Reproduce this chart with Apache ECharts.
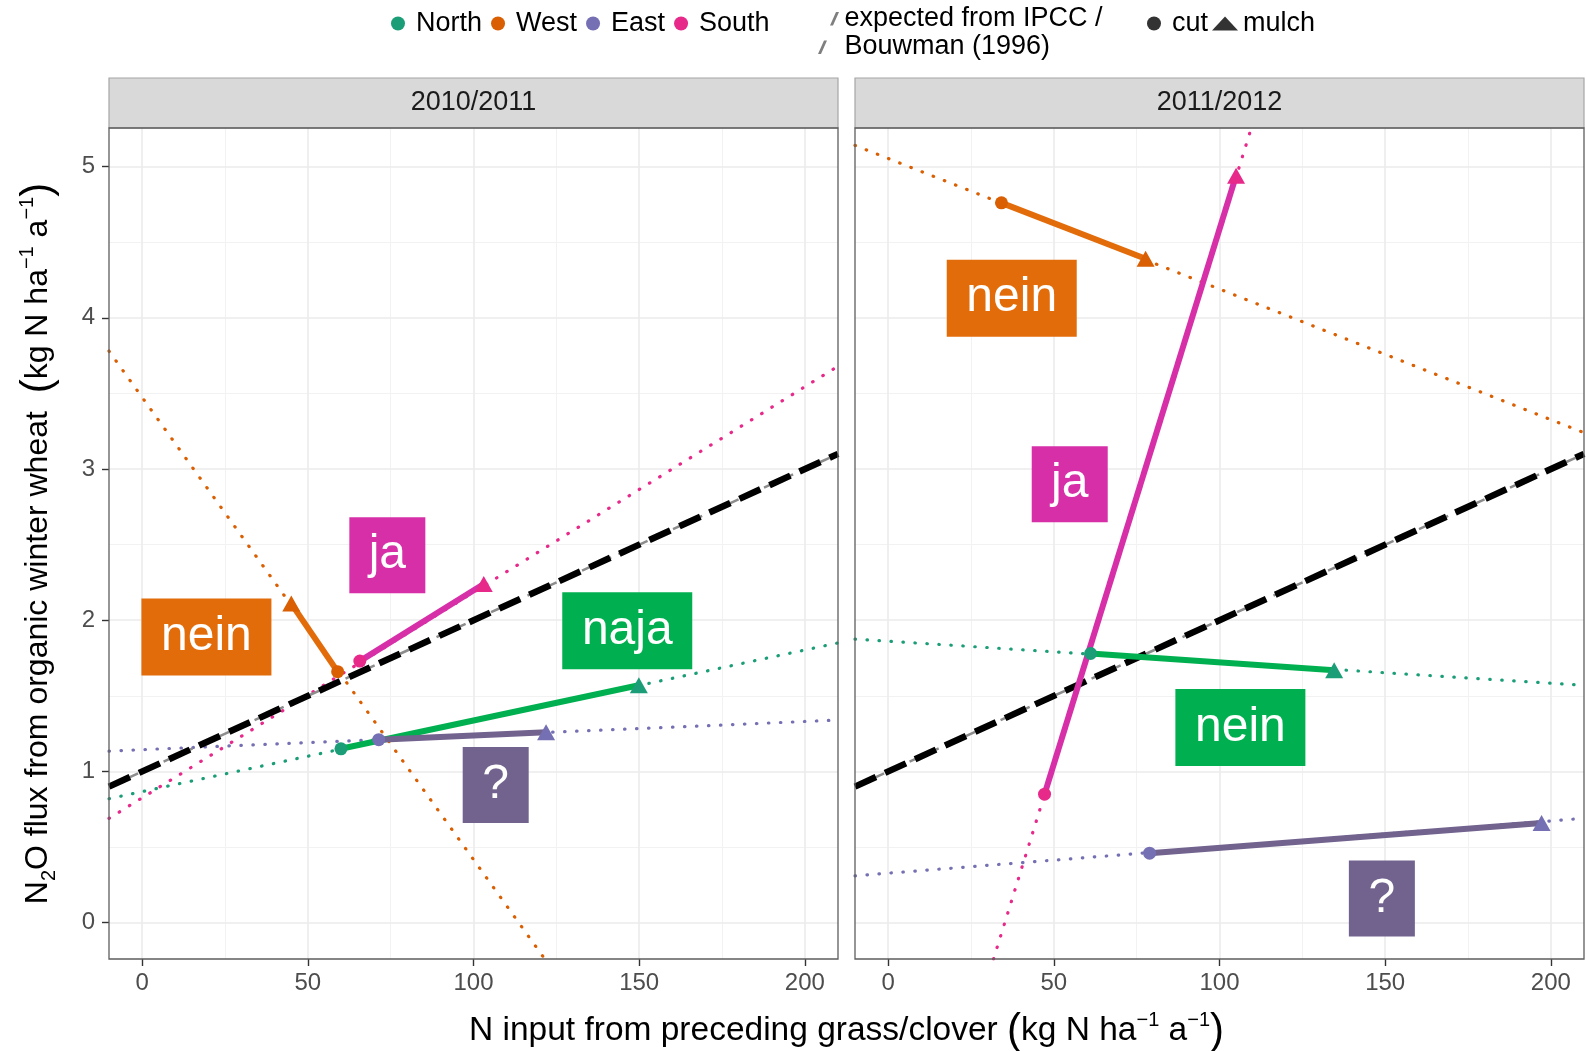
<!DOCTYPE html>
<html>
<head>
<meta charset="utf-8">
<script src="https://cdn.jsdelivr.net/npm/echarts/dist/echarts.min.js"></script>
<style>
  html, body { margin: 0; padding: 0; background: #fff; }
  #chart { width: 1587px; height: 1051px; }
</style>
</head>
<body>
<div id="chart"></div>
<script>
// ---- data -------------------------------------------------------------
const regions = ['North', 'West', 'East', 'South'];
const panels = ['2010/2011', '2011/2012'];

// N input (kg N/ha/a) and N2O flux (kg N/ha/a), order follows `regions`
const cut2010   = [[60.0, 1.15], [59.0, 1.66], [71.4, 1.21], [65.7, 1.73]];
const mulch2010 = [[149.9, 1.57], [45.0, 2.11], [121.9, 1.26], [103.1, 2.24]];
const cut2011   = [[61.1, 1.78], [34.2, 4.76], [78.9, 0.46], [47.2, 0.85]];
const mulch2011 = [[134.6, 1.67], [77.7, 4.39], [197.2, 0.66], [105.0, 4.94]];

// per-region trend lines (start and end point inside each panel)
const trend2010 = [
  [[-10, 0.82], [210, 1.85]],
  [[-10, 3.78], [121.5, -0.24]],
  [[-10, 1.135], [210, 1.34]],
  [[-10, 0.69], [210, 3.68]]
];
const trend2011 = [
  [[-10, 1.875], [210, 1.57]],
  [[-10, 5.14], [210, 3.24]],
  [[-10, 0.31], [210, 0.69]],
  [[31.8, -0.24], [109.6, 5.255]]
];

// expected emission after IPCC / Bouwman (1996)
const ipccLine = [[-10, 0.9], [210, 3.1]];

// verdict boxes per region, anchored in data coordinates
const verdicts2010 = ['naja', 'nein', '?', 'ja'];
const verdictAt2010 = [[146.4, 1.93], [19.4, 1.89], [106.7, 0.91], [74.0, 2.43]];
const verdicts2011 = ['nein', 'nein', '?', 'ja'];
const verdictAt2011 = [[106.3, 1.29], [37.3, 4.13], [149.0, 0.16], [54.8, 2.90]];

const xTicks = [0, 50, 100, 150, 200];
const xMinor = [25, 75, 125, 175];
const yTicks = [0, 1, 2, 3, 4, 5];
const yMinor = [0.5, 1.5, 2.5, 3.5, 4.5];

// ---- styling ----------------------------------------------------------
const FONT = "'Liberation Sans', Arial, sans-serif";
const pointColors = ['#1B9E77', '#D95F02', '#7570B3', '#E7298A'];
const accentColors = ['#00B050', '#E36C0A', '#72628E', '#D62FA8'];
const boxSize = { nein: [130, 77], naja: [130, 77], ja: [76, 76], '?': [66, 76] };
const IPCC_NAME = 'expected from IPCC / Bouwman (1996)';

const X_RANGE = [-10, 210];
const Y_RANGE = [-0.24, 5.255];
const gridBoxes = [
  { left: 109, top: 128, width: 729, height: 831 },
  { left: 855, top: 128, width: 729, height: 831 }
];
const STRIP_H = 50;

const panelData = [
  { cut: cut2010, mulch: mulch2010, trend: trend2010, verdicts: verdicts2010, at: verdictAt2010 },
  { cut: cut2011, mulch: mulch2011, trend: trend2011, verdicts: verdicts2011, at: verdictAt2011 }
];

// ---- build options ----------------------------------------------------
const grids = gridBoxes.map(g => ({ left: g.left, top: g.top, width: g.width, height: g.height, containLabel: false }));

const tickStyle = { color: '#333', width: 1.4 };

const xAxes = gridBoxes.map((g, i) => ({
  type: 'value', gridIndex: i, min: X_RANGE[0], max: X_RANGE[1], position: 'bottom',
  axisLine: { show: false, onZero: false },
  splitLine: { show: false },
  axisTick: { show: true, length: 7, lineStyle: tickStyle, customValues: xTicks },
  axisLabel: { customValues: xTicks, color: '#4D4D4D', fontSize: 24, fontFamily: FONT, margin: 12 }
}));

const yAxes = gridBoxes.map((g, i) => ({
  type: 'value', gridIndex: i, min: Y_RANGE[0], max: Y_RANGE[1], position: 'left',
  axisLine: { show: false, onZero: false },
  splitLine: { show: false },
  axisTick: { show: i === 0, length: 7, lineStyle: tickStyle, customValues: yTicks },
  axisLabel: { show: i === 0, customValues: yTicks, color: '#4D4D4D', fontSize: 24, fontFamily: FONT, margin: 14 },
  name: i === 0 ? '{t|N}{sub|2}{t|O flux from organic winter wheat  }{par|(}{t|kg N ha}{sup|−1}{t| a}{sup|−1}{par|)}' : '',
  nameLocation: 'middle',
  nameRotate: 90,
  nameGap: 50,
  nameTextStyle: {
    fontFamily: FONT,
    rich: {
      t:   { fontSize: 32, fontFamily: FONT, color: '#000', lineHeight: 42, verticalAlign: 'middle' },
      sub: { fontSize: 20, fontFamily: FONT, color: '#000', lineHeight: 24, verticalAlign: 'bottom' },
      sup: { fontSize: 20, fontFamily: FONT, color: '#000', lineHeight: 24, verticalAlign: 'top' },
      par: { fontSize: 42, fontFamily: FONT, color: '#000', lineHeight: 42, verticalAlign: 'middle' }
    }
  }
}));

const series = [];

panelData.forEach((p, gi) => {
  // panel grid lines
  series.push({
    type: 'line', xAxisIndex: gi, yAxisIndex: gi, data: [], silent: true, z: 1,
    markLine: {
      silent: true, symbol: 'none', animation: false, z: 1,
      label: { show: false },
      emphasis: { disabled: true },
      data: [
        ...xMinor.map(v => ({ xAxis: v, lineStyle: { color: '#F2F2F2', width: 1, type: 'solid' } })),
        ...yMinor.map(v => ({ yAxis: v, lineStyle: { color: '#F2F2F2', width: 1, type: 'solid' } })),
        ...xTicks.map(v => ({ xAxis: v, lineStyle: { color: '#EBEBEB', width: 1.6, type: 'solid' } })),
        ...yTicks.map(v => ({ yAxis: v, lineStyle: { color: '#EBEBEB', width: 1.6, type: 'solid' } }))
      ]
    }
  });

  // dotted trend line per region
  regions.forEach((r, ri) => {
    series.push({
      name: r, type: 'line', xAxisIndex: gi, yAxisIndex: gi, z: 2,
      data: p.trend[ri], showSymbol: false, clip: true, silent: true,
      color: pointColors[ri],
      lineStyle: { color: pointColors[ri], width: 3.2, type: [0.5, 11.5], cap: 'round' }
    });
  });

  // IPCC expectation: thin grey dash under a thick black dash
  series.push({
    name: IPCC_NAME, type: 'line', xAxisIndex: gi, yAxisIndex: gi, z: 3,
    data: ipccLine, showSymbol: false, silent: true, color: '#8C8C8C',
    lineStyle: { color: '#8C8C8C', width: 2.5, type: [12, 8] }
  });
  series.push({
    name: IPCC_NAME, type: 'line', xAxisIndex: gi, yAxisIndex: gi, z: 4,
    data: ipccLine, showSymbol: false, silent: true, color: '#000',
    lineStyle: { color: '#000', width: 6.5, type: [23, 10] }
  });

  // highlighted change from cut to mulch
  regions.forEach((r, ri) => {
    series.push({
      type: 'line', xAxisIndex: gi, yAxisIndex: gi, z: 5,
      data: [p.cut[ri], p.mulch[ri]], showSymbol: false, silent: true,
      lineStyle: { color: accentColors[ri], width: 6, cap: 'butt' }
    });
  });

  // cut (circle) and mulch (triangle) points
  series.push({
    name: 'cut', type: 'scatter', xAxisIndex: gi, yAxisIndex: gi, z: 6,
    symbol: 'circle', symbolSize: 13, silent: true,
    data: p.cut.map((d, ri) => ({ value: d, itemStyle: { color: pointColors[ri], opacity: 1 } }))
  });
  series.push({
    name: 'mulch', type: 'scatter', xAxisIndex: gi, yAxisIndex: gi, z: 6,
    symbol: 'triangle', symbolSize: [18, 16], silent: true,
    data: p.mulch.map((d, ri) => ({ value: d, itemStyle: { color: pointColors[ri], opacity: 1 } }))
  });

  // verdict boxes
  series.push({
    type: 'scatter', xAxisIndex: gi, yAxisIndex: gi, z: 7, silent: true,
    symbol: 'rect',
    data: p.verdicts.map((txt, ri) => ({
      value: p.at[ri],
      symbolSize: boxSize[txt],
      itemStyle: { color: accentColors[ri], opacity: 1 },
      label: {
        show: true, position: 'inside', formatter: txt,
        color: '#fff', fontSize: 48, fontFamily: FONT
      }
    }))
  });
});

// strips, panel borders and the shared x-axis title
const graphics = [];
gridBoxes.forEach((g, i) => {
  graphics.push({
    type: 'rect', z: 50,
    shape: { x: g.left, y: g.top - STRIP_H, width: g.width, height: STRIP_H },
    style: { fill: '#D9D9D9', stroke: '#A6A6A6', lineWidth: 1.2 }
  });
  graphics.push({
    type: 'text', z: 51,
    x: g.left + g.width / 2, y: g.top - STRIP_H / 2,
    style: { text: panels[i], fill: '#1A1A1A', font: '27px ' + FONT, align: 'center', verticalAlign: 'middle' }
  });
  graphics.push({
    type: 'rect', z: 60,
    shape: { x: g.left, y: g.top, width: g.width, height: g.height },
    style: { fill: 'none', stroke: '#5E5E5E', lineWidth: 1.3 }
  });
});
graphics.push({
  type: 'text', z: 51,
  x: (gridBoxes[0].left + gridBoxes[1].left + gridBoxes[1].width) / 2, y: 1031,
  style: {
    text: '{t|N input from preceding grass/clover }{par|(}{t|kg N ha}{sup|−1}{t| a}{sup|−1}{par|)}',
    align: 'center', verticalAlign: 'middle',
    rich: {
      t:   { fontSize: 33.5, fontFamily: FONT, fill: '#000', lineHeight: 42, verticalAlign: 'middle' },
      sup: { fontSize: 20, fontFamily: FONT, fill: '#000', lineHeight: 24, verticalAlign: 'top' },
      par: { fontSize: 42, fontFamily: FONT, fill: '#000', lineHeight: 42, verticalAlign: 'middle' }
    }
  }
});

const legendText = { color: '#000', fontSize: 27, fontFamily: FONT };

const option = {
  animation: false,
  backgroundColor: '#fff',
  grid: grids,
  xAxis: xAxes,
  yAxis: yAxes,
  legend: [
    {
      left: 386, top: 5, itemWidth: 26, itemHeight: 14, itemGap: 9,
      selectedMode: false, textStyle: legendText,
      data: regions.map((r, ri) => ({ name: r, icon: 'circle', itemStyle: { color: pointColors[ri] } }))
    },
    {
      left: 813, top: 0, itemWidth: 22, itemHeight: 42, selectedMode: false,
      textStyle: Object.assign({}, legendText, { lineHeight: 28 }),
      formatter: () => 'expected from IPCC /\nBouwman (1996)',
      data: [{
        name: IPCC_NAME,
        icon: 'path://M14,0L16,0L12,9L10,9Z M6,19L8,19L4,28L2,28Z',
        itemStyle: { color: '#7F7F7F' }
      }]
    },
    {
      left: 1142, top: 5, itemWidth: 26, itemHeight: 14, itemGap: 4,
      selectedMode: false, textStyle: legendText,
      data: [
        { name: 'cut', icon: 'circle', itemStyle: { color: '#000' } },
        { name: 'mulch', icon: 'triangle', itemStyle: { color: '#000' } }
      ]
    }
  ],
  graphic: graphics,
  series: series
};

const chart = echarts.init(document.getElementById('chart'), null, { renderer: 'canvas' });
chart.setOption(option);
</script>
</body>
</html>
